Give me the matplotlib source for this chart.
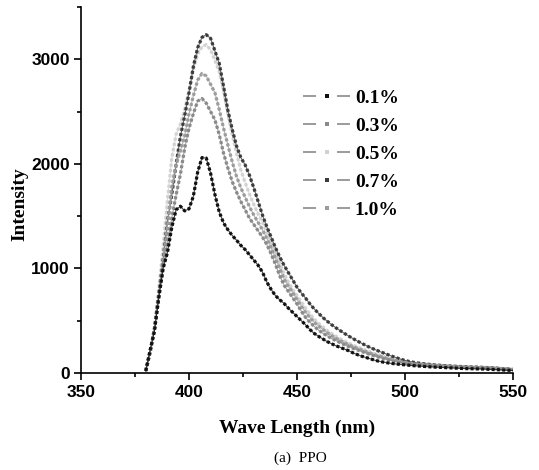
import numpy as np
import matplotlib
matplotlib.use("Agg")
import matplotlib.pyplot as plt
from matplotlib.lines import Line2D
from matplotlib.ticker import MultipleLocator

plt.rcParams['lines.scale_dashes'] = False

wavelength = np.arange(380, 551, 2)

s01 = [20, 220, 400, 720, 1000, 1150, 1390, 1560, 1595, 1550, 1570, 1690, 1920, 2060, 2055, 1910,
       1705, 1540, 1435, 1370, 1315, 1270, 1220, 1180, 1130, 1080, 1030, 965, 870, 800,
       740, 700, 665, 620, 580, 540, 500, 460, 415, 378, 350, 325, 300, 280, 260, 245,
       228, 212, 192, 175, 160, 148, 135, 122, 112, 104, 97, 91, 86, 82, 78,
       74, 70, 67, 64, 61, 58, 56, 54, 52, 50, 48, 46, 44, 42, 41, 40, 39, 38, 36, 34, 32, 30, 28, 26, 24]

s03 = [20, 200, 420, 720, 1000, 1250, 1480, 1700, 1900, 2150, 2340, 2480, 2600, 2625, 2580, 2500,
       2420, 2280, 2100, 1960, 1830, 1730, 1640, 1560, 1480, 1420, 1360, 1300, 1230, 1140,
       1040, 930, 840, 780, 720, 660, 590, 530, 485, 445, 410, 380, 355, 330, 310, 290,
       270, 252, 235, 220, 205, 190, 176, 162, 150, 139, 128, 118, 109, 101, 95,
       90, 86, 82, 79, 76, 73, 70, 67, 65, 63, 61, 59, 57, 55, 53, 52, 51, 49, 47, 45, 43, 40, 37, 34, 31]

s05 = [20, 200, 440, 800, 1200, 1650, 2050, 2280, 2380, 2520, 2700, 2900, 3050, 3120, 3140, 3090,
       2990, 2880, 2700, 2480, 2280, 2100, 1940, 1820, 1710, 1610, 1520, 1440, 1350, 1250,
       1150, 1050, 950, 870, 800, 740, 680, 620, 565, 515, 475, 440, 405, 378, 352, 328,
       305, 285, 265, 248, 232, 216, 200, 185, 171, 158, 145, 133, 122, 112, 105,
       99, 94, 89, 85, 81, 77, 74, 71, 68, 65, 63, 61, 59, 57, 55, 54, 53, 52, 50, 48, 46, 43, 40, 37, 33]

s07 = [20, 200, 420, 750, 1080, 1450, 1700, 1990, 2260, 2460, 2680, 2930, 3110, 3210, 3235, 3200,
       3080, 2960, 2740, 2510, 2330, 2170, 2060, 1990, 1890, 1770, 1640, 1510, 1400, 1300,
       1200, 1110, 1030, 960, 890, 820, 765, 715, 660, 612, 570, 530, 495, 462, 432, 405,
       378, 352, 328, 305, 283, 262, 242, 225, 208, 192, 176, 160, 146, 132, 120,
       110, 102, 96, 90, 85, 81, 77, 74, 71, 68, 66, 64, 62, 60, 58, 57, 56, 54, 52, 50, 47, 44, 41, 38, 34]

s10 = [20, 200, 430, 750, 1050, 1400, 1780, 1990, 2120, 2270, 2480, 2650, 2800, 2865, 2840, 2760,
       2680, 2520, 2340, 2180, 2020, 1880, 1770, 1680, 1590, 1510, 1440, 1370, 1290, 1200,
       1100, 1000, 900, 830, 770, 705, 640, 580, 530, 485, 450, 415, 385, 358, 333, 310,
       290, 270, 252, 236, 220, 204, 189, 175, 162, 150, 138, 127, 117, 108, 100,
       94, 89, 85, 82, 78, 75, 72, 69, 66, 64, 62, 60, 58, 56, 54, 53, 52, 51, 49, 47, 45, 42, 39, 36, 32]

labels = ['0.1%', '0.3%', '0.5%', '0.7%', '1.0%']
series = [s01, s03, s05, s07, s10]
colors = ['#111111', '#8a8a8a', '#d2d2d2', '#3c3c3c', '#9c9c9c']
draw_order = [2, 3, 4, 1, 0]

fig = plt.figure(figsize=(5.39, 4.70), dpi=100)
ax = fig.add_axes([0.1503, 0.2064, 0.8015, 0.7787])

for i in draw_order:
    z = 3 + (1 if i == 0 else 0)
    ax.plot(wavelength, series[i], linestyle='-', linewidth=0.8, color=colors[i],
            alpha=0.8, zorder=z)
    ax.plot(wavelength, series[i], linestyle=(0, (2.2, 1.6)), linewidth=2.3,
            dash_capstyle='butt', color=colors[i], zorder=z)

ax.set_xlim(350, 550)
ax.set_ylim(0, 3500)
ax.xaxis.set_major_locator(MultipleLocator(50))
ax.xaxis.set_minor_locator(MultipleLocator(25))
ax.yaxis.set_major_locator(MultipleLocator(1000))
ax.yaxis.set_minor_locator(MultipleLocator(500))
ax.set_yticks([0, 1000, 2000, 3000])

for s in ['top', 'right']:
    ax.spines[s].set_visible(False)
for s in ['left', 'bottom']:
    ax.spines[s].set_linewidth(1.2)

ax.tick_params(which='major', direction='out', length=5, width=1.2, pad=3)
ax.tick_params(which='minor', direction='out', length=2.8, width=1.2)
ax.tick_params(axis='x', which='major', pad=4)

tick_font = ['Liberation Sans Narrow', 'Liberation Sans', 'DejaVu Sans']
for lab in ax.get_xticklabels() + ax.get_yticklabels():
    lab.set_family(tick_font)
    lab.set_fontweight('bold')
    lab.set_fontsize(12.5)

serif = ['Liberation Serif', 'DejaVu Serif']
ax.set_xlabel('Wave Length (nm)', family=serif, fontweight='bold', fontsize=14)
ax.xaxis.set_label_coords(0.5, -0.128)
ax.set_ylabel('Intensity', family=serif, fontweight='bold', fontsize=14)
ax.yaxis.set_label_coords(-0.122, 0.46)

fig.text(0.557, 0.026, '(a)  PPO', family=serif, fontsize=11, ha='center', va='center')

handles = [Line2D([0], [0], color='#8a8a8a', linewidth=1.2, dashes=(9.4, 15.1),
                  marker='s', markersize=3.2, markeredgewidth=0,
                  markerfacecolor=c) for c in colors]
leg = ax.legend(handles, labels, loc='upper left', bbox_to_anchor=(303 / 539, 1 - 89 / 470),
                bbox_transform=fig.transFigure, frameon=False, borderpad=0, borderaxespad=0,
                handlelength=2.42, handletextpad=0.25, labelspacing=0.54, numpoints=1,
                prop={'family': serif, 'weight': 'bold', 'size': 14})

fig.savefig('out.png', dpi=100)
